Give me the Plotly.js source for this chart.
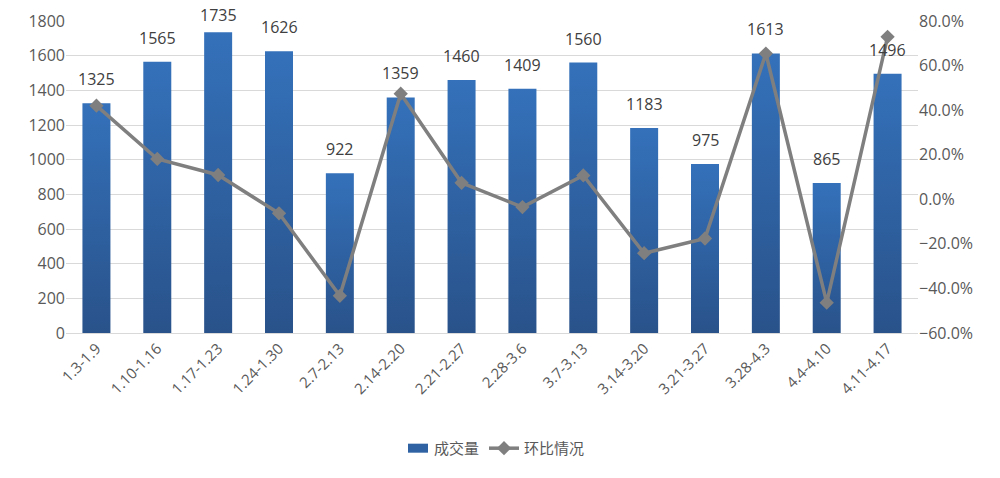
<!DOCTYPE html>
<html>
<head>
<meta charset="utf-8">
<script src="https://cdn.plot.ly/plotly-3.0.1.min.js"></script>
<style>
  html, body { margin: 0; padding: 0; background: #fff; }
  #chart { width: 1000px; height: 478px; }
</style>
</head>
<body>
<div id="chart"></div>
<script>
'use strict';

const weeks = ['1.3-1.9', '1.10-1.16', '1.17-1.23', '1.24-1.30', '2.7-2.13', '2.14-2.20', '2.21-2.27',
    '2.28-3.6', '3.7-3.13', '3.14-3.20', '3.21-3.27', '3.28-4.3', '4.4-4.10', '4.11-4.17'];
const volume = [1325, 1565, 1735, 1626, 922, 1359, 1460, 1409, 1560, 1183, 975, 1613, 865, 1496];
const change = [0.42, 0.181, 0.109, -0.063, -0.433, 0.474, 0.074, -0.035, 0.107, -0.242, -0.176, 0.654, -0.464, 0.729];

const fontFamily = '"Segoe UI", "Open Sans", "Noto Sans CJK SC", sans-serif';
const yMax = 1800;
const plotTop = 21;
const plotHeight = 312;

const volumeTrace = {
    x: weeks,
    y: volume,
    type: 'bar',
    name: '成交量',
    marker: {
        color: '#2e62a3',
        line: { width: 0 }
    }
};

const changeTrace = {
    x: weeks,
    y: change,
    type: 'scatter',
    mode: 'lines+markers',
    name: '环比情况',
    yaxis: 'y2',
    cliponaxis: false,
    line: { color: '#7f7f7f', width: 3.5 },
    marker: { symbol: 'diamond', size: 11, color: '#7f7f7f' }
};

// value labels above the bars, pulled down a little when they would hit the top
const labels = weeks.map((w, i) => {
    const barTop = plotTop + (yMax - volume[i]) / yMax * plotHeight;
    return {
        x: w,
        y: volume[i],
        xref: 'x',
        yref: 'y',
        text: String(volume[i]),
        showarrow: false,
        yanchor: 'bottom',
        yshift: Math.min(11, barTop - 28),
        font: { size: 16, color: '#404040', family: fontFamily }
    };
});

const layout = {
    width: 1000,
    height: 478,
    margin: { l: 66, r: 82, t: plotTop, b: 478 - plotTop - plotHeight },
    paper_bgcolor: '#ffffff',
    plot_bgcolor: '#ffffff',
    font: { family: fontFamily, color: '#595959', size: 14 },
    bargap: 0.54,
    showlegend: true,
    legend: {
        orientation: 'h',
        x: 0.5,
        xanchor: 'center',
        y: -0.37,
        yanchor: 'middle',
        font: { size: 15, color: '#595959', family: fontFamily }
    },
    annotations: labels,
    xaxis: {
        type: 'category',
        range: [-0.5, weeks.length - 0.5],
        automargin: false,
        tickangle: -45,
        showgrid: false,
        showline: true,
        linecolor: '#d9d9d9',
        linewidth: 1,
        ticks: '',
        tickfont: { size: 15, color: '#595959' }
    },
    yaxis: {
        automargin: false,
        range: [0, yMax],
        dtick: 200,
        showgrid: true,
        gridcolor: '#d9d9d9',
        zeroline: false,
        showline: false,
        ticks: '',
        tickfont: { size: 16, color: '#595959' }
    },
    yaxis2: {
        automargin: false,
        overlaying: 'y',
        side: 'right',
        range: [-0.6, 0.8],
        dtick: 0.2,
        tickformat: '.1%',
        showgrid: false,
        zeroline: false,
        showline: false,
        ticks: '',
        tickfont: { size: 16, color: '#595959' }
    }
};

Plotly.newPlot('chart', [volumeTrace, changeTrace], layout, { displayModeBar: false, staticPlot: true })
    .then(gd => {
        // vertical gradient on the bars, lighter at the top
        const svg = gd.querySelector('.main-svg');
        const ns = 'http://www.w3.org/2000/svg';
        let defs = svg.querySelector('defs');
        if (!defs) { defs = document.createElementNS(ns, 'defs'); svg.prepend(defs); }
        const grad = document.createElementNS(ns, 'linearGradient');
        grad.setAttribute('id', 'barGrad');
        grad.setAttribute('x1', '0'); grad.setAttribute('y1', '0');
        grad.setAttribute('x2', '0'); grad.setAttribute('y2', '1');
        [['0', '#3471ba'], ['1', '#29528a']].forEach(([o, c]) => {
            const s = document.createElementNS(ns, 'stop');
            s.setAttribute('offset', o);
            s.setAttribute('stop-color', c);
            grad.appendChild(s);
        });
        defs.appendChild(grad);
        gd.querySelectorAll('.bars .point path').forEach(p => { p.style.fill = 'url(#barGrad)'; });
        // wider legend swatch for the bars, like the original
        gd.querySelectorAll('.legend .legendbar path, .legend .legendpoints path').forEach(p => {
            if (p.closest('.traces') === gd.querySelector('.legend .traces')) {
                p.setAttribute('d', 'M14,4.5H-6V-4.5H14Z');
            }
        });
    });
</script>
</body>
</html>
